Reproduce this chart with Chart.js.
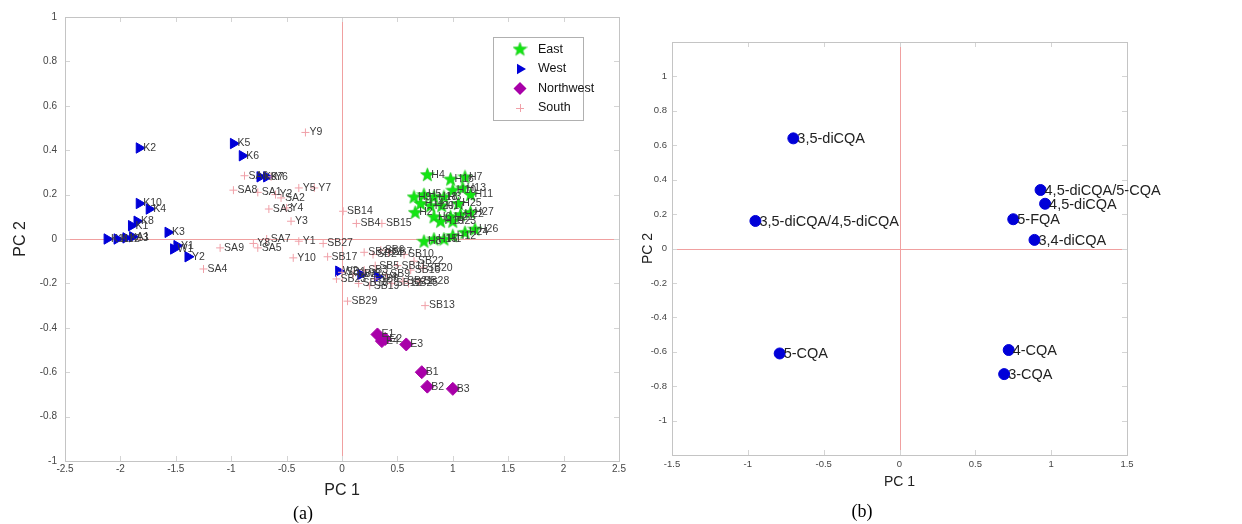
<!DOCTYPE html>
<html><head><meta charset="utf-8">
<script src="https://cdn.jsdelivr.net/npm/chart.js@4.4.0/dist/chart.umd.min.js"></script>
<style>
html,body{margin:0;padding:0;background:#fff;width:1242px;height:524px;overflow:hidden;}
#ca{position:absolute;left:0;top:0;}
#cb{position:absolute;left:640px;top:0;}
.cap{position:absolute;font-family:"Liberation Serif","Times New Roman",serif;font-size:18px;color:#000;transform:translate(-50%,-50%);top:513px;}
</style></head><body>
<canvas id="ca" width="640" height="524"></canvas>
<canvas id="cb" width="602" height="524"></canvas>
<div class="cap" style="left:303px">(a)</div>
<div class="cap" style="left:862px;top:511px">(b)</div>
<script>
// ---------- Panel (a) data ----------
const eastLabels = ['H4','H16','H7','H9','H5','H18','H3','H10','H13','H11','H2','H14','H20','H6','H21','H22','H27','H19','H23','H26','H24','H8','H15','H1','H12','H17','H25'];
const eastX = [0.77,0.98,1.11,0.65,0.74,0.83,0.92,1.00,1.09,1.16,0.66,0.71,0.80,0.83,0.98,1.07,1.16,0.89,1.00,1.20,1.11,0.74,0.83,0.92,1.00,0.90,1.05];
const eastY = [0.29,0.27,0.28,0.19,0.20,0.19,0.19,0.22,0.23,0.20,0.12,0.16,0.15,0.10,0.10,0.11,0.12,0.08,0.08,0.045,0.03,-0.01,0.00,0.00,0.015,0.15,0.16];

const westLabels = ['K2','K5','K6','K9','K7','K10','K4','K8','K1','K11','K12','K13','A1','K3','Y1','W1','Y2','W2','W3','W4'];
const westX = [-1.83,-0.98,-0.90,-0.74,-0.68,-1.83,-1.74,-1.85,-1.90,-2.12,-2.03,-1.95,-1.89,-1.57,-1.49,-1.52,-1.39,-0.03,0.17,0.32];
const westY = [0.41,0.43,0.375,0.28,0.28,0.16,0.135,0.08,0.06,0.00,0.00,0.005,0.01,0.03,-0.03,-0.045,-0.08,-0.145,-0.16,-0.17];

const nwLabels = ['E1','E4','E2','E3','B1','B2','B3'];
const nwX = [0.32,0.36,0.39,0.58,0.72,0.77,1.00];
const nwY = [-0.43,-0.46,-0.45,-0.475,-0.60,-0.665,-0.675];

const southLabels = ['SA1','SA2','SA3','SA4','SA5','SA6','SA7','SA8','SA9','Y1','Y2','Y3','Y4','Y5','Y6','Y7','Y8','Y9','Y10',
  'SB1','SB2','SB3','SB4','SB5','SB6','SB7','SB8','SB9','SB10','SB11','SB12','SB13','SB14','SB15','SB16','SB17','SB18','SB19','SB20','SB21','SB22','SB23','SB24','SB25','SB26','SB27','SB28','SB29'];
const southX = [-0.76,-0.55,-0.66,-1.25,-0.76,-0.88,-0.68,-0.98,-1.10,-0.39,-0.60,-0.46,-0.50,-0.39,-0.64,-0.25,-0.80,-0.33,-0.44,
  0.00,0.10,0.20,0.13,0.30,0.35,0.42,0.30,0.40,0.56,0.50,0.45,0.75,0.01,0.36,0.62,-0.13,0.15,0.25,0.73,0.55,0.65,-0.05,0.28,0.60,0.20,-0.17,0.70,0.05];
const southY = [0.21,0.185,0.135,-0.135,-0.04,0.285,0.00,0.22,-0.04,-0.01,0.20,0.08,0.14,0.23,0.28,0.23,-0.02,0.48,-0.085,
  -0.15,-0.16,-0.14,0.07,-0.12,-0.05,-0.06,-0.18,-0.16,-0.07,-0.12,-0.20,-0.30,0.125,0.07,-0.14,-0.08,-0.20,-0.21,-0.13,-0.19,-0.10,-0.18,-0.07,-0.20,-0.06,-0.02,-0.19,-0.28];

const xTicksA = [-2.5,-2,-1.5,-1,-0.5,0,0.5,1,1.5,2,2.5];
const xTickLabelsA = ['-2.5','-2','-1.5','-1','-0.5','0','0.5','1','1.5','2','2.5'];
const yTicksA = [-1,-0.8,-0.6,-0.4,-0.2,0,0.2,0.4,0.6,0.8,1];
const yTickLabelsA = ['-1','-0.8','-0.6','-0.4','-0.2','0','0.2','0.4','0.6','0.8','1'];
const legendNames = ['East','West','Northwest','South'];

// ---------- Panel (b) data ----------
const compLabels = ['3,5-diCQA','3,5-diCQA/4,5-diCQA','5-CQA','4,5-diCQA/5-CQA','4,5-diCQA','5-FQA','3,4-diCQA','4-CQA','3-CQA'];
const compX = [-0.70,-0.95,-0.79,0.93,0.96,0.75,0.89,0.72,0.69];
const compY = [0.64,0.16,-0.61,0.34,0.26,0.17,0.05,-0.59,-0.73];

const xTicksB = [-1.5,-1,-0.5,0,0.5,1,1.5];
const xTickLabelsB = ['-1.5','-1','-0.5','0','0.5','1','1.5'];
const yTicksB = [-1,-0.8,-0.6,-0.4,-0.2,0,0.2,0.4,0.6,0.8,1];
const yTickLabelsB = ['-1','-0.8','-0.6','-0.4','-0.2','0','0.2','0.4','0.6','0.8','1'];

// ---------- styles ----------
const SANS = "'Liberation Sans', Arial, Helvetica, sans-serif";
Chart.defaults.font.family = SANS;
const GREEN = '#12e612', BLUE = '#0000d8', MAGENTA = '#a800a8', PINK = '#f0a0a8';

function makeStar(){
  const c = document.createElement('canvas'); c.width = 15; c.height = 15;
  const g = c.getContext('2d');
  g.beginPath();
  for (let k = 0; k < 10; k++) {
    const r = k % 2 ? 3.0 : 7.2;
    const a = -Math.PI/2 + k*Math.PI/5;
    const px = 7.5 + r*Math.cos(a), py = 8 + r*Math.sin(a);
    k ? g.lineTo(px,py) : g.moveTo(px,py);
  }
  g.closePath(); g.fillStyle = GREEN; g.fill();
  g.strokeStyle = '#10c010'; g.lineWidth = 0.6; g.stroke();
  return c;
}
const starImg = makeStar();

const pts = (xs, ys) => xs.map((x,i) => ({x, y: ys[i]}));

const framePlugin = {
  id: 'frame',
  beforeDatasetsDraw(chart) {
    const {ctx, chartArea: a, scales: {x, y}} = chart;
    ctx.save();
    const L = Math.round(a.left), T = Math.round(a.top), R = Math.round(a.right), B = Math.round(a.bottom);
    ctx.fillStyle = '#f0a0a0';
    const x0 = Math.round(x.getPixelForValue(0));
    const y0 = Math.round(y.getPixelForValue(0));
    ctx.fillRect(x0, T, 1, B - T);
    ctx.fillRect(L, y0, R - L, 1);
    ctx.fillStyle = '#d4d4d4';
    x.ticks.forEach(t => {
      const p = Math.round(x.getPixelForValue(t.value));
      ctx.fillRect(p, B - 5, 1, 5);
      ctx.fillRect(p, T, 1, 5);
    });
    y.ticks.forEach(t => {
      const p = Math.round(y.getPixelForValue(t.value));
      ctx.fillRect(L, p, 5, 1);
      ctx.fillRect(R - 5, p, 5, 1);
    });
    ctx.strokeStyle = '#c4c4c4'; ctx.lineWidth = 1;
    ctx.strokeRect(L + 0.5, T + 0.5, R - L, B - T);
    ctx.restore();
  }
};

const labelPlugin = {
  id: 'ptLabels',
  afterDatasetsDraw(chart, args, o) {
    const ctx = chart.ctx;
    ctx.save();
    ctx.font = o.font; ctx.fillStyle = o.color;
    ctx.textAlign = 'left'; ctx.textBaseline = 'middle';
    chart.data.datasets.forEach((ds, i) => {
      if (!ds.pointLabels) return;
      chart.getDatasetMeta(i).data.forEach((pt, j) => {
        ctx.fillText(ds.pointLabels[j], pt.x + o.dx, pt.y + o.dy);
      });
    });
    ctx.restore();
  }
};

const legendPlugin = {
  id: 'boxLegend',
  afterDraw(chart) {
    const ctx = chart.ctx;
    ctx.save();
    const L = 493, T = 37, W = 90, H = 83;
    ctx.fillStyle = '#fff'; ctx.fillRect(L, T, W, H);
    ctx.strokeStyle = '#b0b0b0'; ctx.lineWidth = 1;
    ctx.strokeRect(L + 0.5, T + 0.5, W, H);
    const rows = [49.5, 69, 88.5, 108];
    const mx = 520;
    ctx.drawImage(starImg, mx - 7.5, rows[0] - 8);
    ctx.fillStyle = BLUE; ctx.beginPath();
    ctx.moveTo(mx + 6, rows[1]); ctx.lineTo(mx - 3, rows[1] - 5.2); ctx.lineTo(mx - 3, rows[1] + 5.2); ctx.closePath(); ctx.fill();
    ctx.fillStyle = MAGENTA; ctx.beginPath();
    ctx.moveTo(mx, rows[2] - 6.5); ctx.lineTo(mx + 6.5, rows[2]); ctx.lineTo(mx, rows[2] + 6.5); ctx.lineTo(mx - 6.5, rows[2]); ctx.closePath(); ctx.fill();
    ctx.strokeStyle = PINK; ctx.beginPath();
    ctx.moveTo(mx - 4, rows[3] + 0.5); ctx.lineTo(mx + 4, rows[3] + 0.5);
    ctx.moveTo(mx + 0.5, rows[3] - 4); ctx.lineTo(mx + 0.5, rows[3] + 4); ctx.stroke();
    ctx.fillStyle = '#111'; ctx.font = '12.5px ' + SANS;
    ctx.textAlign = 'left'; ctx.textBaseline = 'middle';
    legendNames.forEach((n, i) => ctx.fillText(n, 538, rows[i]));
    ctx.restore();
  }
};

function axis(ticksArr, labelsArr, min, max, opts) {
  return {
    type: 'linear', min, max,
    afterBuildTicks: s => { s.ticks = ticksArr.map(v => ({value: v})); },
    afterFit: opts.fit,
    grid: {display: false, drawTicks: false, tickLength: 0},
    border: {display: false},
    ticks: {
      autoSkip: false, maxRotation: 0, padding: opts.pad,
      color: '#454545', font: {size: opts.tickSize, family: SANS},
      callback: (v, i) => labelsArr[i]
    },
    title: {display: true, text: opts.title, color: '#222', font: {size: opts.titleSize, family: SANS}, padding: opts.titlePad}
  };
}

new Chart(document.getElementById('ca'), {
  type: 'scatter',
  data: {
    datasets: [
      {label: 'South', data: pts(southX, southY), pointLabels: southLabels, pointStyle: 'cross', pointRadius: 4, borderColor: PINK, backgroundColor: PINK, borderWidth: 1},
      {label: 'East', data: pts(eastX, eastY), pointLabels: eastLabels, pointStyle: starImg, pointRadius: 7},
      {label: 'West', data: pts(westX, westY), pointLabels: westLabels, pointStyle: 'triangle', rotation: 90, pointRadius: 6, borderColor: BLUE, backgroundColor: BLUE, borderWidth: 1},
      {label: 'Northwest', data: pts(nwX, nwY), pointLabels: nwLabels, pointStyle: 'rectRot', pointRadius: 6.5, borderColor: MAGENTA, backgroundColor: MAGENTA, borderWidth: 1}
    ]
  },
  options: {
    responsive: false, animation: false, devicePixelRatio: 1,
    layout: {padding: {top: 17, right: 21, left: 0, bottom: 0}},
    plugins: {legend: {display: false}, tooltip: {enabled: false},
      ptLabels: {font: '10.5px ' + SANS, color: '#3a3a3a', dx: 4, dy: 0}},
    scales: {
      x: axis(xTicksA, xTickLabelsA, -2.5, 2.5, {fit: s => { s.height = 63; }, pad: 2, tickSize: 10, title: 'PC 1', titleSize: 16, titlePad: {top: 0, bottom: 24}}),
      y: axis(yTicksA, yTickLabelsA, -1, 1, {fit: s => { s.width = 65; }, pad: 8, tickSize: 10, title: 'PC 2', titleSize: 16, titlePad: {top: 11, bottom: 0}})
    }
  },
  plugins: [framePlugin, labelPlugin, legendPlugin]
});

new Chart(document.getElementById('cb'), {
  type: 'scatter',
  data: {
    datasets: [
      {label: 'Compounds', data: pts(compX, compY), pointLabels: compLabels, pointStyle: 'circle', pointRadius: 5.5, borderColor: BLUE, backgroundColor: BLUE, borderWidth: 1}
    ]
  },
  options: {
    responsive: false, animation: false, devicePixelRatio: 1,
    layout: {padding: {top: 42, right: 115, left: 0, bottom: 0}},
    plugins: {legend: {display: false}, tooltip: {enabled: false},
      ptLabels: {font: '14.5px ' + SANS, color: '#222', dx: 4, dy: 1}},
    scales: {
      x: axis(xTicksB, xTickLabelsB, -1.5, 1.5, {fit: s => { s.height = 69; }, pad: 4, tickSize: 9.5, title: 'PC 1', titleSize: 14, titlePad: {top: 0, bottom: 33}}),
      y: axis(yTicksB, yTickLabelsB, -1.2, 1.2, {fit: s => { s.width = 32; }, pad: 5, tickSize: 9.5, title: 'PC 2', titleSize: 14, titlePad: {top: 0, bottom: 0}})
    }
  },
  plugins: [framePlugin, labelPlugin]
});
</script>
</body></html>
